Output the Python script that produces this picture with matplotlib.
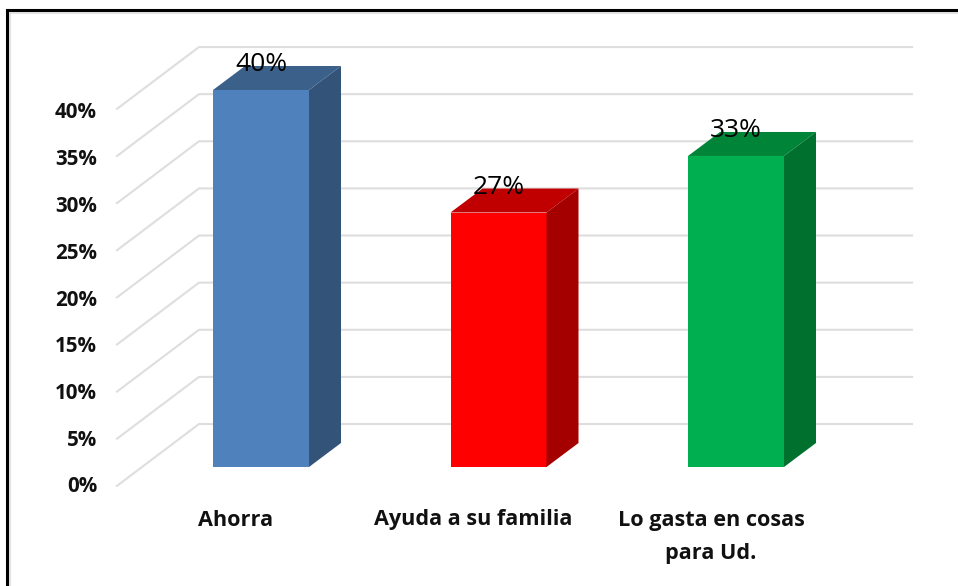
import numpy as np
import matplotlib
matplotlib.use("Agg")
import matplotlib.pyplot as plt
from matplotlib.patches import Polygon

categories = ["Ahorra", "Ayuda a su familia", "Lo gasta en cosas\npara Ud."]
values = [40, 27, 33]
ticks = [0, 5, 10, 15, 20, 25, 30, 35, 40]

front_colors = ["#4F81BD", "#FF0000", "#00B050"]
top_colors = ["#3B6089", "#C00000", "#008538"]
side_colors = ["#345379", "#A40000", "#00702F"]

W, H = 958, 586
X0, STEP = 261.0, 237.5     # px of first bar centre, px between bars
Y0, UNIT = 467.0, 9.425     # px of bar base, px per 1%


def px(x):
    return (x - X0) / STEP


def py(y):
    return (Y0 - y) / UNIT


plt.rcParams['font.family'] = ['Open Sans', 'DejaVu Sans']

fig = plt.figure(figsize=(W / 100, H / 100), dpi=100)
ax = fig.add_axes([0, 0, 1, 1])
ax.set_xlim(px(0), px(W))
ax.set_ylim(py(H), py(0))
ax.axis('off')

# 3d walls of the chart
floor_left, wall_left, wall_right = px(117), px(199), px(912)
floor_drop = 2.0       # front edge of floor, below bar base
wall_rise = 4.56       # back wall, above bar base
grid_c = "#DEDEDE"
for t in ticks:
    ax.plot([floor_left, wall_left, wall_right],
            [t - floor_drop, t + wall_rise, t + wall_rise],
            color=grid_c, lw=1.5, zorder=1, solid_joinstyle='miter')
    # labels are spaced a little tighter than the grid
    ax.text(px(97), py(484.5 - t * 9.35), f"{t}%", ha='right', va='center_baseline',
            fontsize=14.8, fontweight='bold', color="#111111", zorder=5)

# bars
half = 48 / STEP
dx = 32 / STEP
dy = 24 / UNIT
for i, v in enumerate(values):
    l, r = i - half, i + half
    ax.add_patch(Polygon([(l, 0), (r, 0), (r, v), (l, v)], closed=True,
                         fc=front_colors[i], ec='none', zorder=3))
    ax.add_patch(Polygon([(l, v), (r, v), (r + dx, v + dy), (l + dx, v + dy)], closed=True,
                         fc=top_colors[i], ec='none', zorder=3))
    ax.add_patch(Polygon([(r, 0), (r + dx, dy), (r + dx, v + dy), (r, v)], closed=True,
                         fc=side_colors[i], ec='none', zorder=3))
    ax.text(i, v + 3.0, f"{v}%", ha='center', va='center_baseline', fontsize=19,
            color="#000000", zorder=6)
    ax.text(i - 25 / STEP, py(520 if '\n' not in categories[i] else 537), categories[i],
            ha='center', va='center', fontsize=15.6, fontweight='bold', color="#111111",
            linespacing=1.8, zorder=5)

# picture frame, open on right and bottom
ax.plot([px(7), px(7), px(W)], [py(H), py(10), py(10)], color="#000000", lw=2.2,
        zorder=8, solid_joinstyle='miter')
ax.plot([px(10), px(10), px(W)], [py(H), py(12.5), py(12.5)], color="#E4E4E4", lw=1.5,
        zorder=7, solid_joinstyle='miter')

fig.savefig("out.png", dpi=100)
